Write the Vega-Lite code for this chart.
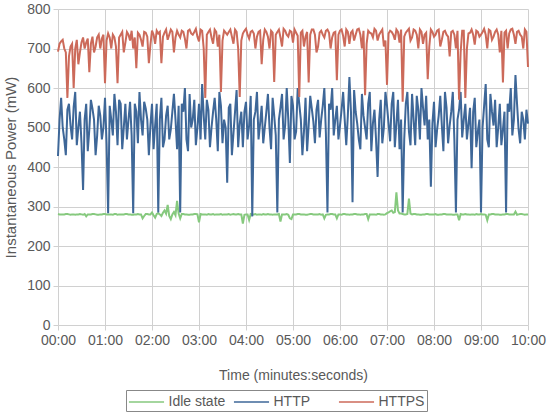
{
  "$schema": "https://vega.github.io/schema/vega-lite/v6.json",
  "width": 470,
  "height": 316,
  "autosize": {"type": "none"},
  "padding": {"left": 58, "top": 9, "right": 22, "bottom": 92},
  "background": "white",
  "config": {
    "font": "Liberation Sans",
    "view": {"stroke": null},
    "axis": {
      "labelFont": "Liberation Sans", "labelFontSize": 14, "labelColor": "#595959",
      "titleFont": "Liberation Sans", "titleFontSize": 14, "titleColor": "#595959", "titleFontWeight": "normal",
      "gridColor": "#d0d0d0", "gridWidth": 1, "tickColor": "#d0d0d0", "tickSize": 5, "domain": false
    },
    "legend": {"labelFont": "Liberation Sans", "labelFontSize": 14, "labelColor": "#595959"}
  },
  "data": {"values": [
    {"t":0,"Idle state":281,"HTTP":428,"HTTPS":692},
    {"t":4,"Idle state":280,"HTTP":575,"HTTPS":718},
    {"t":8,"Idle state":280,"HTTP":470,"HTTPS":700},
    {"t":12,"Idle state":281,"HTTP":545,"HTTPS":575},
    {"t":16,"Idle state":279,"HTTP":505,"HTTPS":705},
    {"t":20,"Idle state":280,"HTTP":552,"HTTPS":600},
    {"t":24,"Idle state":280,"HTTP":455,"HTTPS":722},
    {"t":28,"Idle state":281,"HTTP":540,"HTTPS":690},
    {"t":32,"Idle state":279,"HTTP":342,"HTTPS":728},
    {"t":36,"Idle state":275,"HTTP":560,"HTTPS":715},
    {"t":40,"Idle state":280,"HTTP":495,"HTTPS":640},
    {"t":44,"Idle state":281,"HTTP":548,"HTTPS":730},
    {"t":48,"Idle state":280,"HTTP":430,"HTTPS":705},
    {"t":52,"Idle state":279,"HTTP":555,"HTTPS":735},
    {"t":56,"Idle state":280,"HTTP":470,"HTTPS":725},
    {"t":60,"Idle state":281,"HTTP":575,"HTTPS":612},
    {"t":64,"Idle state":280,"HTTP":283,"HTTPS":738},
    {"t":68,"Idle state":280,"HTTP":520,"HTTPS":700},
    {"t":72,"Idle state":281,"HTTP":585,"HTTPS":728},
    {"t":76,"Idle state":279,"HTTP":455,"HTTPS":612},
    {"t":80,"Idle state":280,"HTTP":560,"HTTPS":735},
    {"t":84,"Idle state":280,"HTTP":500,"HTTPS":690},
    {"t":88,"Idle state":281,"HTTP":470,"HTTPS":742},
    {"t":92,"Idle state":280,"HTTP":565,"HTTPS":720},
    {"t":96,"Idle state":279,"HTTP":283,"HTTPS":700},
    {"t":100,"Idle state":280,"HTTP":540,"HTTPS":650},
    {"t":104,"Idle state":280,"HTTP":590,"HTTPS":735},
    {"t":108,"Idle state":270,"HTTP":480,"HTTPS":705},
    {"t":112,"Idle state":281,"HTTP":548,"HTTPS":740},
    {"t":116,"Idle state":280,"HTTP":430,"HTTPS":663},
    {"t":120,"Idle state":285,"HTTP":560,"HTTPS":745},
    {"t":124,"Idle state":272,"HTTP":505,"HTTPS":712},
    {"t":128,"Idle state":283,"HTTP":285,"HTTPS":738},
    {"t":132,"Idle state":276,"HTTP":575,"HTTPS":663},
    {"t":136,"Idle state":290,"HTTP":470,"HTTPS":740},
    {"t":140,"Idle state":304,"HTTP":555,"HTTPS":722},
    {"t":144,"Idle state":268,"HTTP":495,"HTTPS":748},
    {"t":148,"Idle state":286,"HTTP":585,"HTTPS":690},
    {"t":152,"Idle state":314,"HTTP":445,"HTTPS":745},
    {"t":156,"Idle state":270,"HTTP":285,"HTTPS":728},
    {"t":160,"Idle state":281,"HTTP":540,"HTTPS":742},
    {"t":164,"Idle state":280,"HTTP":470,"HTTPS":700},
    {"t":168,"Idle state":279,"HTTP":585,"HTTPS":748},
    {"t":172,"Idle state":280,"HTTP":520,"HTTPS":735},
    {"t":176,"Idle state":281,"HTTP":455,"HTTPS":750},
    {"t":180,"Idle state":260,"HTTP":560,"HTTPS":718},
    {"t":184,"Idle state":280,"HTTP":610,"HTTPS":745},
    {"t":188,"Idle state":280,"HTTP":470,"HTTPS":575},
    {"t":192,"Idle state":281,"HTTP":545,"HTTPS":742},
    {"t":196,"Idle state":280,"HTTP":500,"HTTPS":728},
    {"t":200,"Idle state":279,"HTTP":575,"HTTPS":748},
    {"t":204,"Idle state":280,"HTTP":440,"HTTPS":705},
    {"t":208,"Idle state":281,"HTTP":555,"HTTPS":590},
    {"t":212,"Idle state":280,"HTTP":520,"HTTPS":745},
    {"t":216,"Idle state":280,"HTTP":360,"HTTPS":735},
    {"t":220,"Idle state":279,"HTTP":560,"HTTPS":748},
    {"t":224,"Idle state":281,"HTTP":485,"HTTPS":712},
    {"t":228,"Idle state":280,"HTTP":595,"HTTPS":742},
    {"t":232,"Idle state":280,"HTTP":510,"HTTPS":577},
    {"t":236,"Idle state":257,"HTTP":450,"HTTPS":738},
    {"t":240,"Idle state":280,"HTTP":565,"HTTPS":750},
    {"t":244,"Idle state":266,"HTTP":505,"HTTPS":725},
    {"t":248,"Idle state":280,"HTTP":275,"HTTPS":745},
    {"t":252,"Idle state":281,"HTTP":540,"HTTPS":700},
    {"t":256,"Idle state":280,"HTTP":470,"HTTPS":742},
    {"t":260,"Idle state":279,"HTTP":555,"HTTPS":660},
    {"t":264,"Idle state":280,"HTTP":500,"HTTPS":748},
    {"t":268,"Idle state":281,"HTTP":585,"HTTPS":730},
    {"t":272,"Idle state":280,"HTTP":445,"HTTPS":745},
    {"t":276,"Idle state":280,"HTTP":530,"HTTPS":615},
    {"t":280,"Idle state":280,"HTTP":285,"HTTPS":742},
    {"t":284,"Idle state":262,"HTTP":550,"HTTPS":728},
    {"t":288,"Idle state":280,"HTTP":470,"HTTPS":750},
    {"t":292,"Idle state":281,"HTTP":600,"HTTPS":735},
    {"t":296,"Idle state":270,"HTTP":410,"HTTPS":745},
    {"t":300,"Idle state":280,"HTTP":555,"HTTPS":715},
    {"t":304,"Idle state":280,"HTTP":490,"HTTPS":740},
    {"t":308,"Idle state":281,"HTTP":560,"HTTPS":577},
    {"t":312,"Idle state":280,"HTTP":430,"HTTPS":745},
    {"t":316,"Idle state":279,"HTTP":575,"HTTPS":730},
    {"t":320,"Idle state":280,"HTTP":505,"HTTPS":614},
    {"t":324,"Idle state":281,"HTTP":548,"HTTPS":748},
    {"t":328,"Idle state":280,"HTTP":460,"HTTPS":735},
    {"t":332,"Idle state":280,"HTTP":570,"HTTPS":705},
    {"t":336,"Idle state":279,"HTTP":520,"HTTPS":745},
    {"t":340,"Idle state":270,"HTTP":600,"HTTPS":728},
    {"t":344,"Idle state":280,"HTTP":285,"HTTPS":748},
    {"t":348,"Idle state":281,"HTTP":545,"HTTPS":700},
    {"t":352,"Idle state":280,"HTTP":480,"HTTPS":740},
    {"t":356,"Idle state":270,"HTTP":555,"HTTPS":620},
    {"t":360,"Idle state":280,"HTTP":505,"HTTPS":745},
    {"t":364,"Idle state":281,"HTTP":590,"HTTPS":732},
    {"t":368,"Idle state":280,"HTTP":455,"HTTPS":748},
    {"t":372,"Idle state":279,"HTTP":628,"HTTPS":712},
    {"t":376,"Idle state":280,"HTTP":311,"HTTPS":745},
    {"t":380,"Idle state":281,"HTTP":540,"HTTPS":735},
    {"t":384,"Idle state":280,"HTTP":470,"HTTPS":750},
    {"t":388,"Idle state":280,"HTTP":585,"HTTPS":700},
    {"t":392,"Idle state":281,"HTTP":500,"HTTPS":582},
    {"t":396,"Idle state":268,"HTTP":560,"HTTPS":745},
    {"t":400,"Idle state":280,"HTTP":440,"HTTPS":738},
    {"t":404,"Idle state":280,"HTTP":545,"HTTPS":750},
    {"t":408,"Idle state":281,"HTTP":375,"HTTPS":720},
    {"t":412,"Idle state":280,"HTTP":570,"HTTPS":742},
    {"t":416,"Idle state":279,"HTTP":500,"HTTPS":705},
    {"t":420,"Idle state":283,"HTTP":555,"HTTPS":608},
    {"t":424,"Idle state":288,"HTTP":465,"HTTPS":745},
    {"t":428,"Idle state":284,"HTTP":590,"HTTPS":735},
    {"t":432,"Idle state":336,"HTTP":510,"HTTPS":748},
    {"t":436,"Idle state":282,"HTTP":445,"HTTPS":715},
    {"t":440,"Idle state":281,"HTTP":285,"HTTPS":565},
    {"t":444,"Idle state":280,"HTTP":560,"HTTPS":740},
    {"t":448,"Idle state":320,"HTTP":490,"HTTPS":750},
    {"t":452,"Idle state":280,"HTTP":585,"HTTPS":728},
    {"t":456,"Idle state":281,"HTTP":455,"HTTPS":745},
    {"t":460,"Idle state":280,"HTTP":545,"HTTPS":700},
    {"t":464,"Idle state":279,"HTTP":600,"HTTPS":742},
    {"t":468,"Idle state":280,"HTTP":505,"HTTPS":735},
    {"t":472,"Idle state":281,"HTTP":470,"HTTPS":622},
    {"t":476,"Idle state":280,"HTTP":350,"HTTPS":748},
    {"t":480,"Idle state":280,"HTTP":565,"HTTPS":730},
    {"t":484,"Idle state":279,"HTTP":495,"HTTPS":745},
    {"t":488,"Idle state":280,"HTTP":580,"HTTPS":705},
    {"t":492,"Idle state":281,"HTTP":440,"HTTPS":742},
    {"t":496,"Idle state":280,"HTTP":550,"HTTPS":735},
    {"t":500,"Idle state":280,"HTTP":505,"HTTPS":680},
    {"t":504,"Idle state":279,"HTTP":590,"HTTPS":745},
    {"t":508,"Idle state":280,"HTTP":285,"HTTPS":700},
    {"t":512,"Idle state":265,"HTTP":545,"HTTPS":570},
    {"t":516,"Idle state":280,"HTTP":475,"HTTPS":745},
    {"t":520,"Idle state":281,"HTTP":560,"HTTPS":575},
    {"t":524,"Idle state":280,"HTTP":510,"HTTPS":738},
    {"t":528,"Idle state":280,"HTTP":397,"HTTPS":748},
    {"t":532,"Idle state":279,"HTTP":575,"HTTPS":710},
    {"t":536,"Idle state":280,"HTTP":490,"HTTPS":742},
    {"t":540,"Idle state":281,"HTTP":285,"HTTPS":735},
    {"t":544,"Idle state":280,"HTTP":555,"HTTPS":750},
    {"t":548,"Idle state":265,"HTTP":470,"HTTPS":700},
    {"t":552,"Idle state":280,"HTTP":585,"HTTPS":745},
    {"t":556,"Idle state":281,"HTTP":505,"HTTPS":730},
    {"t":560,"Idle state":280,"HTTP":450,"HTTPS":748},
    {"t":564,"Idle state":279,"HTTP":560,"HTTPS":690},
    {"t":568,"Idle state":280,"HTTP":495,"HTTPS":614},
    {"t":572,"Idle state":281,"HTTP":285,"HTTPS":745},
    {"t":576,"Idle state":280,"HTTP":540,"HTTPS":738},
    {"t":580,"Idle state":280,"HTTP":480,"HTTPS":750},
    {"t":584,"Idle state":287,"HTTP":633,"HTTPS":712},
    {"t":588,"Idle state":280,"HTTP":495,"HTTPS":745},
    {"t":592,"Idle state":281,"HTTP":540,"HTTPS":730},
    {"t":596,"Idle state":279,"HTTP":470,"HTTPS":748},
    {"t":600,"Idle state":280,"HTTP":510,"HTTPS":653},
    {"t":2,"Idle state":280,"HTTP":520,"HTTPS":712},
    {"t":6,"Idle state":280,"HTTP":500,"HTTPS":722},
    {"t":10,"Idle state":281,"HTTP":430,"HTTPS":690},
    {"t":14,"Idle state":280,"HTTP":560,"HTTPS":680},
    {"t":18,"Idle state":280,"HTTP":470,"HTTPS":712},
    {"t":22,"Idle state":279,"HTTP":590,"HTTPS":700},
    {"t":26,"Idle state":280,"HTTP":500,"HTTPS":660},
    {"t":30,"Idle state":280,"HTTP":460,"HTTPS":715},
    {"t":34,"Idle state":281,"HTTP":520,"HTTPS":700},
    {"t":38,"Idle state":280,"HTTP":440,"HTTPS":725},
    {"t":42,"Idle state":280,"HTTP":570,"HTTPS":712},
    {"t":46,"Idle state":281,"HTTP":520,"HTTPS":690},
    {"t":50,"Idle state":279,"HTTP":480,"HTTPS":728},
    {"t":54,"Idle state":280,"HTTP":530,"HTTPS":700},
    {"t":58,"Idle state":281,"HTTP":500,"HTTPS":735},
    {"t":62,"Idle state":280,"HTTP":460,"HTTPS":720},
    {"t":66,"Idle state":280,"HTTP":555,"HTTPS":728},
    {"t":70,"Idle state":279,"HTTP":480,"HTTPS":735},
    {"t":74,"Idle state":281,"HTTP":540,"HTTPS":705},
    {"t":78,"Idle state":280,"HTTP":570,"HTTPS":728},
    {"t":82,"Idle state":280,"HTTP":445,"HTTPS":742},
    {"t":86,"Idle state":281,"HTTP":560,"HTTPS":715},
    {"t":90,"Idle state":280,"HTTP":520,"HTTPS":735},
    {"t":94,"Idle state":279,"HTTP":480,"HTTPS":745},
    {"t":98,"Idle state":280,"HTTP":560,"HTTPS":728},
    {"t":102,"Idle state":281,"HTTP":460,"HTTPS":740},
    {"t":106,"Idle state":280,"HTTP":520,"HTTPS":722},
    {"t":110,"Idle state":276,"HTTP":565,"HTTPS":742},
    {"t":114,"Idle state":281,"HTTP":520,"HTTPS":730},
    {"t":118,"Idle state":280,"HTTP":505,"HTTPS":710},
    {"t":122,"Idle state":278,"HTTP":445,"HTTPS":735},
    {"t":126,"Idle state":281,"HTTP":560,"HTTPS":745},
    {"t":130,"Idle state":280,"HTTP":520,"HTTPS":742},
    {"t":134,"Idle state":284,"HTTP":450,"HTTPS":730},
    {"t":138,"Idle state":282,"HTTP":530,"HTTPS":748},
    {"t":142,"Idle state":276,"HTTP":470,"HTTPS":735},
    {"t":146,"Idle state":280,"HTTP":540,"HTTPS":742},
    {"t":150,"Idle state":278,"HTTP":520,"HTTPS":728},
    {"t":154,"Idle state":282,"HTTP":555,"HTTPS":735},
    {"t":158,"Idle state":281,"HTTP":560,"HTTPS":745},
    {"t":162,"Idle state":280,"HTTP":600,"HTTPS":725},
    {"t":166,"Idle state":279,"HTTP":440,"HTTPS":745},
    {"t":170,"Idle state":280,"HTTP":500,"HTTPS":738},
    {"t":174,"Idle state":281,"HTTP":570,"HTTPS":742},
    {"t":178,"Idle state":280,"HTTP":500,"HTTPS":730},
    {"t":182,"Idle state":281,"HTTP":470,"HTTPS":748},
    {"t":186,"Idle state":280,"HTTP":530,"HTTPS":700},
    {"t":190,"Idle state":279,"HTTP":570,"HTTPS":735},
    {"t":194,"Idle state":280,"HTTP":450,"HTTPS":748},
    {"t":198,"Idle state":281,"HTTP":540,"HTTPS":712},
    {"t":202,"Idle state":280,"HTTP":520,"HTTPS":742},
    {"t":206,"Idle state":280,"HTTP":590,"HTTPS":735},
    {"t":210,"Idle state":279,"HTTP":460,"HTTPS":720},
    {"t":214,"Idle state":280,"HTTP":500,"HTTPS":740},
    {"t":218,"Idle state":281,"HTTP":550,"HTTPS":742},
    {"t":222,"Idle state":280,"HTTP":430,"HTTPS":730},
    {"t":226,"Idle state":280,"HTTP":540,"HTTPS":748},
    {"t":230,"Idle state":281,"HTTP":450,"HTTPS":700},
    {"t":234,"Idle state":280,"HTTP":540,"HTTPS":720},
    {"t":238,"Idle state":279,"HTTP":540,"HTTPS":745},
    {"t":242,"Idle state":280,"HTTP":470,"HTTPS":735},
    {"t":246,"Idle state":281,"HTTP":580,"HTTPS":742},
    {"t":250,"Idle state":280,"HTTP":520,"HTTPS":738},
    {"t":254,"Idle state":279,"HTTP":590,"HTTPS":730},
    {"t":258,"Idle state":280,"HTTP":510,"HTTPS":745},
    {"t":262,"Idle state":281,"HTTP":460,"HTTPS":722},
    {"t":266,"Idle state":280,"HTTP":540,"HTTPS":742},
    {"t":270,"Idle state":280,"HTTP":500,"HTTPS":700},
    {"t":274,"Idle state":279,"HTTP":575,"HTTPS":740},
    {"t":278,"Idle state":280,"HTTP":480,"HTTPS":735},
    {"t":282,"Idle state":281,"HTTP":520,"HTTPS":748},
    {"t":286,"Idle state":280,"HTTP":585,"HTTPS":705},
    {"t":290,"Idle state":280,"HTTP":505,"HTTPS":745},
    {"t":294,"Idle state":279,"HTTP":520,"HTTPS":730},
    {"t":298,"Idle state":268,"HTTP":580,"HTTPS":742},
    {"t":302,"Idle state":280,"HTTP":470,"HTTPS":748},
    {"t":306,"Idle state":281,"HTTP":600,"HTTPS":732},
    {"t":310,"Idle state":280,"HTTP":520,"HTTPS":740},
    {"t":314,"Idle state":280,"HTTP":490,"HTTPS":705},
    {"t":318,"Idle state":279,"HTTP":440,"HTTPS":742},
    {"t":322,"Idle state":281,"HTTP":580,"HTTPS":735},
    {"t":326,"Idle state":280,"HTTP":515,"HTTPS":748},
    {"t":330,"Idle state":280,"HTTP":545,"HTTPS":690},
    {"t":334,"Idle state":281,"HTTP":475,"HTTPS":740},
    {"t":338,"Idle state":280,"HTTP":555,"HTTPS":735},
    {"t":342,"Idle state":279,"HTTP":485,"HTTPS":745},
    {"t":346,"Idle state":280,"HTTP":560,"HTTPS":740},
    {"t":350,"Idle state":281,"HTTP":600,"HTTPS":728},
    {"t":354,"Idle state":280,"HTTP":520,"HTTPS":742},
    {"t":358,"Idle state":280,"HTTP":470,"HTTPS":735},
    {"t":362,"Idle state":279,"HTTP":545,"HTTPS":748},
    {"t":366,"Idle state":281,"HTTP":520,"HTTPS":705},
    {"t":370,"Idle state":280,"HTTP":530,"HTTPS":742},
    {"t":374,"Idle state":280,"HTTP":540,"HTTPS":740},
    {"t":378,"Idle state":281,"HTTP":595,"HTTPS":720},
    {"t":382,"Idle state":280,"HTTP":510,"HTTPS":748},
    {"t":386,"Idle state":279,"HTTP":445,"HTTPS":735},
    {"t":390,"Idle state":280,"HTTP":530,"HTTPS":745},
    {"t":394,"Idle state":281,"HTTP":470,"HTTPS":712},
    {"t":398,"Idle state":280,"HTTP":590,"HTTPS":740},
    {"t":402,"Idle state":280,"HTTP":510,"HTTPS":728},
    {"t":406,"Idle state":279,"HTTP":470,"HTTPS":745},
    {"t":410,"Idle state":281,"HTTP":520,"HTTPS":735},
    {"t":414,"Idle state":280,"HTTP":460,"HTTPS":748},
    {"t":418,"Idle state":280,"HTTP":590,"HTTPS":720},
    {"t":422,"Idle state":285,"HTTP":510,"HTTPS":738},
    {"t":426,"Idle state":290,"HTTP":560,"HTTPS":742},
    {"t":430,"Idle state":286,"HTTP":450,"HTTPS":722},
    {"t":434,"Idle state":290,"HTTP":570,"HTTPS":742},
    {"t":438,"Idle state":282,"HTTP":520,"HTTPS":748},
    {"t":442,"Idle state":280,"HTTP":470,"HTTPS":730},
    {"t":446,"Idle state":281,"HTTP":590,"HTTPS":745},
    {"t":450,"Idle state":282,"HTTP":455,"HTTPS":720},
    {"t":454,"Idle state":281,"HTTP":520,"HTTPS":748},
    {"t":458,"Idle state":280,"HTTP":580,"HTTPS":735},
    {"t":462,"Idle state":279,"HTTP":470,"HTTPS":748},
    {"t":466,"Idle state":280,"HTTP":550,"HTTPS":712},
    {"t":470,"Idle state":281,"HTTP":580,"HTTPS":740},
    {"t":474,"Idle state":280,"HTTP":520,"HTTPS":705},
    {"t":478,"Idle state":280,"HTTP":510,"HTTPS":742},
    {"t":482,"Idle state":281,"HTTP":450,"HTTPS":735},
    {"t":486,"Idle state":279,"HTTP":530,"HTTPS":748},
    {"t":490,"Idle state":280,"HTTP":505,"HTTPS":722},
    {"t":494,"Idle state":281,"HTTP":590,"HTTPS":745},
    {"t":498,"Idle state":280,"HTTP":460,"HTTPS":730},
    {"t":502,"Idle state":280,"HTTP":540,"HTTPS":742},
    {"t":506,"Idle state":279,"HTTP":470,"HTTPS":735},
    {"t":510,"Idle state":280,"HTTP":520,"HTTPS":745},
    {"t":514,"Idle state":281,"HTTP":590,"HTTPS":690},
    {"t":518,"Idle state":280,"HTTP":520,"HTTPS":745},
    {"t":522,"Idle state":280,"HTTP":470,"HTTPS":700},
    {"t":526,"Idle state":279,"HTTP":550,"HTTPS":740},
    {"t":530,"Idle state":280,"HTTP":540,"HTTPS":735},
    {"t":534,"Idle state":281,"HTTP":450,"HTTPS":745},
    {"t":538,"Idle state":280,"HTTP":520,"HTTPS":730},
    {"t":542,"Idle state":280,"HTTP":500,"HTTPS":742},
    {"t":546,"Idle state":279,"HTTP":610,"HTTPS":735},
    {"t":550,"Idle state":280,"HTTP":450,"HTTPS":748},
    {"t":554,"Idle state":281,"HTTP":540,"HTTPS":722},
    {"t":558,"Idle state":280,"HTTP":570,"HTTPS":742},
    {"t":562,"Idle state":280,"HTTP":500,"HTTPS":735},
    {"t":566,"Idle state":279,"HTTP":455,"HTTPS":745},
    {"t":570,"Idle state":280,"HTTP":540,"HTTPS":740},
    {"t":574,"Idle state":281,"HTTP":560,"HTTPS":700},
    {"t":578,"Idle state":280,"HTTP":600,"HTTPS":748},
    {"t":582,"Idle state":280,"HTTP":520,"HTTPS":735},
    {"t":586,"Idle state":279,"HTTP":560,"HTTPS":742},
    {"t":590,"Idle state":281,"HTTP":460,"HTTPS":735},
    {"t":594,"Idle state":280,"HTTP":520,"HTTPS":700},
    {"t":598,"Idle state":280,"HTTP":545,"HTTPS":742}
  ]},
  "transform": [
    {"fold": ["Idle state", "HTTP", "HTTPS"], "as": ["series", "power"]}
  ],
  "mark": {"type": "line", "strokeWidth": 2, "interpolate": "linear"},
  "encoding": {
    "x": {
      "field": "t", "type": "quantitative",
      "scale": {"domain": [0, 600], "nice": false, "zero": false},
      "axis": {
        "title": "Time (minutes:seconds)",
        "values": [0, 60, 120, 180, 240, 300, 360, 420, 480, 540, 600],
        "labelExpr": "utcFormat(datum.value * 1000, '%M:%S')",
        "labelPadding": 3, "titlePadding": 21, "labelFlush": false
      }
    },
    "y": {
      "field": "power", "type": "quantitative",
      "scale": {"domain": [0, 800], "nice": false},
      "axis": {
        "title": "Instantaneous Power (mW)", "titleFontSize": 15,
        "values": [0, 100, 200, 300, 400, 500, 600, 700, 800],
        "labelPadding": 3, "titlePadding": 8
      }
    },
    "color": {
      "field": "series", "type": "nominal",
      "scale": {"domain": ["Idle state", "HTTP", "HTTPS"], "range": ["#86c97e", "#3e6798", "#cc6a5a"]},
      "legend": {
        "title": null, "orient": "none", "direction": "horizontal", "columns": 3, "gridAlign": "all",
        "legendX": 68, "legendY": 381,
        "symbolType": "M-1.95,0H1.95", "symbolSize": 324, "symbolStrokeWidth": 1.5, "symbolOffset": 8.5,
        "strokeColor": "#888888", "padding": 2, "columnPadding": 4, "labelOffset": 12
      }
    },
    "order": {"field": "t", "type": "quantitative"}
  }
}
